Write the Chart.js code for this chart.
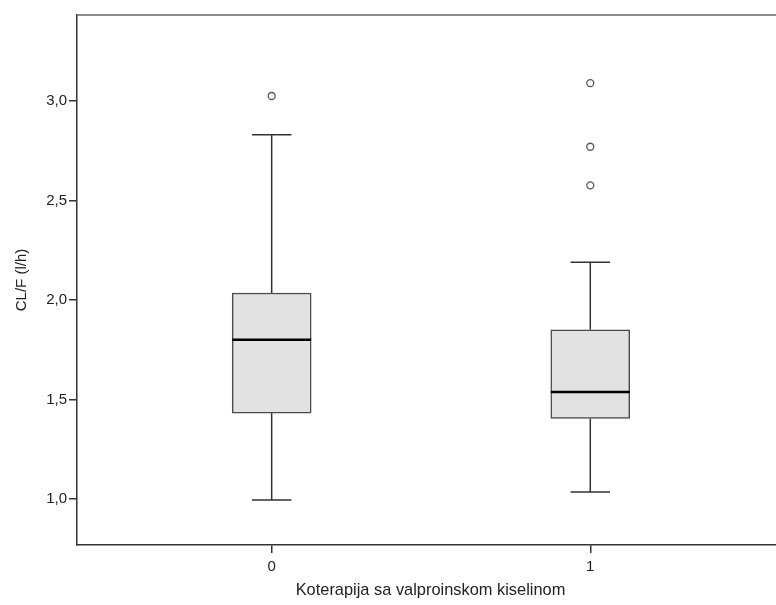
<!DOCTYPE html>
<html>
<head>
<meta charset="utf-8">
<script src="https://cdn.jsdelivr.net/npm/chart.js@4/dist/chart.umd.min.js"></script>
<style>
  html, body { margin: 0; padding: 0; background: #fff; overflow: hidden; }
  #wrap { width: 800px; height: 605px; position: relative; }
</style>
</head>
<body>
<div id="wrap"><canvas id="c"></canvas></div>
<script>
// Box-plot summary per group (CL/F in l/h)
const groups = [0, 1];
const groupLabels = ['0', '1'];
const whiskerLow = [0.995, 1.035];
const q1 = [1.432, 1.405];
const median = [1.80, 1.538];
const q3 = [2.035, 1.85];
const whiskerHigh = [2.83, 2.19];
const outliers0 = [3.025];
const outliers1 = [3.09, 2.77, 2.576];
const yTicks = [1.0, 1.5, 2.0, 2.5, 3.0];

const FONT = '"Liberation Sans", Arial, sans-serif';

const boxData = groups.map((g, i) => ({ x: g, y: [q1[i], q3[i]] }));
const outlierData = [
  ...outliers0.map(v => ({ x: groups[0], y: v })),
  ...outliers1.map(v => ({ x: groups[1], y: v }))
];

// Whiskers go under the boxes, medians and the frame top go over them
const boxPlotParts = {
  id: 'boxPlotParts',
  beforeDatasetsDraw(chart) {
    const ctx = chart.ctx;
    const ys = chart.scales.y;
    const bars = chart.getDatasetMeta(0).data;
    ctx.save();
    ctx.strokeStyle = '#333';
    ctx.lineWidth = 1.5;
    bars.forEach((bar, i) => {
      const x = bar.x;
      const cap = bar.width / 4;
      const yHi = ys.getPixelForValue(whiskerHigh[i]);
      const yLo = ys.getPixelForValue(whiskerLow[i]);
      const yQ3 = ys.getPixelForValue(q3[i]);
      const yQ1 = ys.getPixelForValue(q1[i]);
      ctx.beginPath();
      ctx.moveTo(x, yQ3); ctx.lineTo(x, yHi);
      ctx.moveTo(x - cap, yHi); ctx.lineTo(x + cap, yHi);
      ctx.moveTo(x, yQ1); ctx.lineTo(x, yLo);
      ctx.moveTo(x - cap, yLo); ctx.lineTo(x + cap, yLo);
      ctx.stroke();
    });
    ctx.restore();
  },
  afterDatasetsDraw(chart) {
    const ctx = chart.ctx;
    const ys = chart.scales.y;
    const bars = chart.getDatasetMeta(0).data;
    ctx.save();
    ctx.strokeStyle = '#000';
    ctx.lineWidth = 2.5;
    bars.forEach((bar, i) => {
      const y = ys.getPixelForValue(median[i]);
      ctx.beginPath();
      ctx.moveTo(bar.x - bar.width / 2, y);
      ctx.lineTo(bar.x + bar.width / 2, y);
      ctx.stroke();
    });
    const a = chart.chartArea;
    ctx.strokeStyle = '#666';
    ctx.lineWidth = 1.5;
    ctx.beginPath();
    ctx.moveTo(a.left, a.top);
    ctx.lineTo(a.right, a.top);
    ctx.stroke();
    ctx.restore();
  }
};

new Chart(document.getElementById('c'), {
  type: 'bar',
  data: {
    datasets: [
      {
        type: 'bar',
        data: boxData,
        backgroundColor: '#e2e2e2',
        borderColor: '#4a4a4a',
        borderWidth: 1.5,
        borderSkipped: false,
        barThickness: 79,
        order: 2
      },
      {
        type: 'scatter',
        data: outlierData,
        pointStyle: 'circle',
        pointRadius: 3.5,
        pointBackgroundColor: '#fff',
        pointBorderColor: '#555',
        pointBorderWidth: 1.3,
        showLine: false,
        order: 1
      }
    ]
  },
  options: {
    responsive: true,
    maintainAspectRatio: false,
    devicePixelRatio: 1,
    animation: false,
    layout: { padding: { top: 15, right: 16, left: 0, bottom: 0 } },
    plugins: { legend: { display: false }, tooltip: { enabled: false } },
    scales: {
      x: {
        type: 'linear',
        offset: false,
        min: -0.611,
        max: 1.608,
        afterBuildTicks(scale) { scale.ticks = groups.map(v => ({ value: v })); },
        afterFit(scale) { scale.height = 60; },
        ticks: {
          callback: (v) => groupLabels[groups.indexOf(v)],
          color: '#222',
          font: { family: FONT, size: 15 },
          padding: 5,
          maxRotation: 0
        },
        grid: { offset: false, drawOnChartArea: false, drawTicks: true, tickLength: 8, color: '#333', lineWidth: 1.5 },
        border: { display: true, color: '#333', width: 1.5 },
        title: {
          display: true,
          text: 'Koterapija sa valproinskom kiselinom',
          color: '#222',
          font: { family: FONT, size: 16.4 },
          padding: { top: 4, bottom: 5 }
        }
      },
      y: {
        type: 'linear',
        min: 0.769,
        max: 3.432,
        afterBuildTicks(scale) { scale.ticks = yTicks.map(v => ({ value: v })); },
        afterFit(scale) { scale.width = 77; },
        ticks: {
          callback: (v) => v.toFixed(1).replace('.', ','),
          color: '#222',
          font: { family: FONT, size: 15 },
          padding: 2
        },
        grid: { drawOnChartArea: false, drawTicks: true, tickLength: 8, color: '#333', lineWidth: 1.5 },
        border: { display: true, color: '#333', width: 1.5 },
        title: {
          display: true,
          text: 'CL/F (l/h)',
          color: '#222',
          font: { family: FONT, size: 15 },
          padding: { top: 13, bottom: 4 }
        }
      }
    }
  },
  plugins: [boxPlotParts]
});
</script>
</body>
</html>
